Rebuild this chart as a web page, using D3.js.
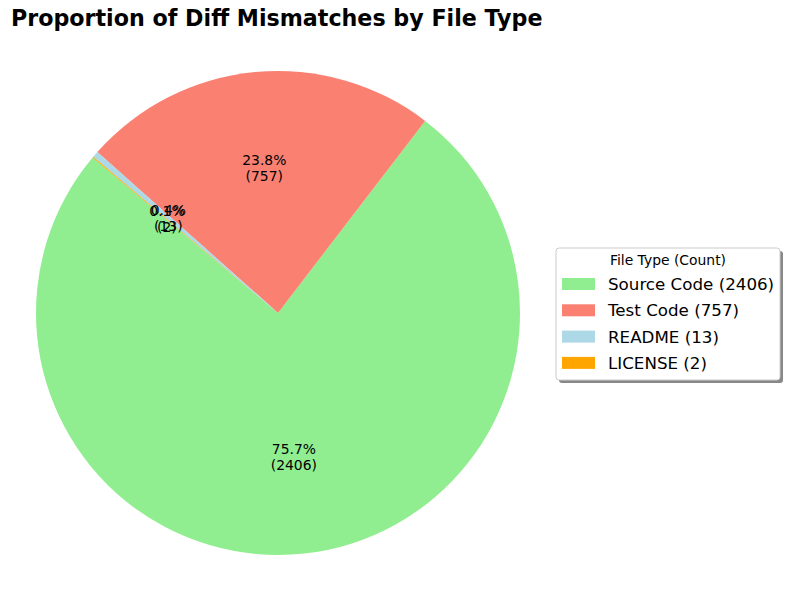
<!DOCTYPE html>
<html>
<head>
<meta charset="utf-8">
<script src="https://cdn.jsdelivr.net/npm/d3@7"></script>
<style>
  body { margin: 0; background: #fff; }
  svg { font-family: "DejaVu Sans", sans-serif; }
</style>
</head>
<body>
<svg id="chart" width="790" height="590"></svg>
<script>
var labels = ['Source Code', 'Test Code', 'README', 'LICENSE'];
var counts = [2406, 757, 13, 2];
var colors = ['#90ee90', '#fa8072', '#add8e6', '#ffa500'];

var svg = d3.select('#chart');
var width = 790, height = 590;
var cx = 278, cy = 313, radius = 242;
var total = d3.sum(counts);

svg.append('rect').attr('width', width).attr('height', height).attr('fill', '#fff');

svg.append('text')
    .attr('x', 11)
    .attr('y', 26)
    .attr('font-size', '22.2px')
    .attr('font-weight', 'bold')
    .text('Proportion of Diff Mismatches by File Type');

// matplotlib startangle 140, counterclockwise -> d3 angle = 90 - theta
var start = (90 - 140) * Math.PI / 180;
var pie = d3.pie()
    .sort(null)
    .startAngle(start)
    .endAngle(start - 2 * Math.PI);

var arcs = pie(counts);
var arc = d3.arc().innerRadius(0).outerRadius(radius);
var labelArc = d3.arc().innerRadius(radius * 0.6).outerRadius(radius * 0.6);

var g = svg.append('g').attr('transform', 'translate(' + cx + ',' + cy + ')');

g.selectAll('path')
    .data(arcs)
    .enter()
    .append('path')
    .attr('d', arc)
    .attr('fill', function(d, i) { return colors[i]; });

var lab = g.selectAll('.pct')
    .data(arcs)
    .enter()
    .append('text')
    .attr('class', 'pct')
    .attr('transform', function(d) { return 'translate(' + labelArc.centroid(d) + ')'; })
    .attr('text-anchor', 'middle')
    .attr('font-size', '13.9px');

lab.append('tspan')
    .attr('x', 0)
    .attr('y', -3)
    .text(function(d) { return (d.value / total * 100).toFixed(1) + '%'; });
lab.append('tspan')
    .attr('x', 0)
    .attr('y', 13)
    .text(function(d) { return '(' + d.value + ')'; });

// legend
var lx = 556, ly = 248, lw = 224, lh = 132;
var leg = svg.append('g');
leg.append('rect')
    .attr('x', lx + 3).attr('y', ly + 3)
    .attr('width', lw).attr('height', lh)
    .attr('rx', 3)
    .attr('fill', '#888');
leg.append('rect')
    .attr('x', lx).attr('y', ly)
    .attr('width', lw).attr('height', lh)
    .attr('rx', 3)
    .attr('fill', '#fff')
    .attr('stroke', '#ccc');

leg.append('text')
    .attr('x', lx + lw / 2)
    .attr('y', ly + 17)
    .attr('text-anchor', 'middle')
    .attr('font-size', '13.9px')
    .text('File Type (Count)');

var items = leg.selectAll('.item')
    .data(labels)
    .enter()
    .append('g')
    .attr('transform', function(d, i) { return 'translate(' + (lx + 6) + ',' + (ly + 36 + i * 26.3) + ')'; });

items.append('rect')
    .attr('x', 0).attr('y', -6)
    .attr('width', 33).attr('height', 12)
    .attr('fill', function(d, i) { return colors[i]; });

items.append('text')
    .attr('x', 46)
    .attr('y', 6)
    .attr('font-size', '16.7px')
    .text(function(d, i) { return d + ' (' + counts[i] + ')'; });
</script>
</body>
</html>
